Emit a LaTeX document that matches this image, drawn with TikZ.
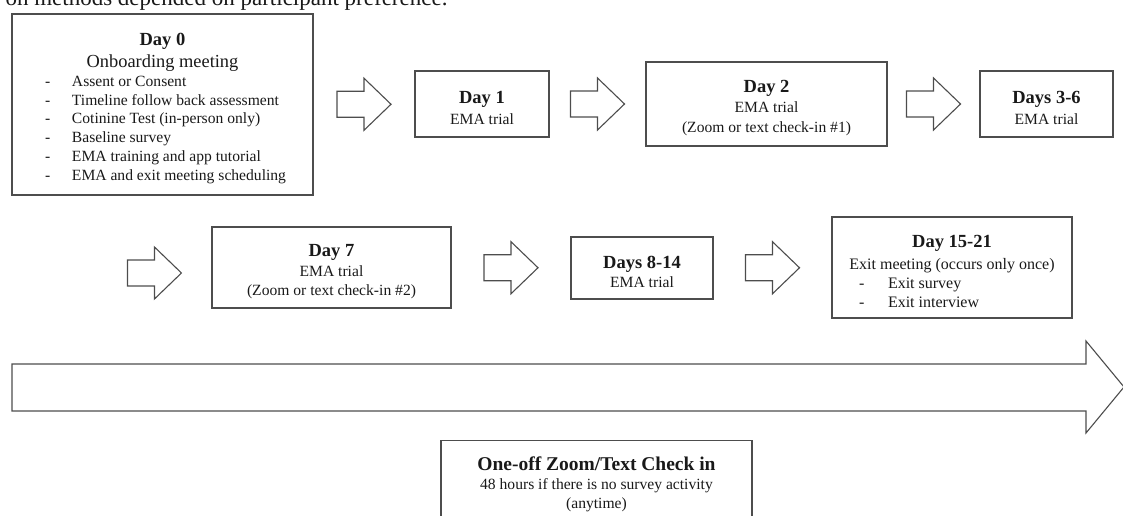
\documentclass[tikz,border=0pt]{standalone}
\usepackage{fontspec}
\setmainfont{Liberation Serif}
\usetikzlibrary{calc}
\definecolor{boxline}{HTML}{4d4d4d}
\newcommand{\daytitle}{\fontsize{18.5}{22}\selectfont\bfseries\rule{0pt}{20pt}}
\newcommand{\subfont}{\fontsize{15.6}{19.5}\selectfont}
\newcommand{\dashitem}[3][27pt]{\makebox[#2][l]{\makebox[#1][l]{-}#3}}

\begin{document}
\begin{tikzpicture}[x=1pt,y=-1pt,
daybox/.style={draw=boxline,line width=1.1pt,align=center,inner sep=0pt,font=\subfont,text=black!90},
hollow/.style={draw=boxline,line width=1.1pt,line join=miter},
hollowarr/.pic={\draw[hollow] (-27,-13) -- (0,-13) -- (0,-26) -- (27,0) -- (0,26) -- (0,13) -- (-27,13) -- cycle;}]
\useasboundingbox (0,0) rectangle (1123,516);
\clip (0,0) rectangle (1123,516);
\node[anchor=base west,font=\fontsize{23}{27}\selectfont,text=black!90] (cut) at (2,6) {on methods depended on participant preference.};
% first row
\node[daybox,minimum width=301pt,minimum height=181pt,font=\fontsize{15.6}{18.7}\selectfont] (day0) at (162.5,104.5)
  {{\daytitle Day 0}\\[3.3pt]{\fontsize{18.4}{22}\selectfont Onboarding meeting}\\[0.3pt]
   \dashitem{235pt}{Assent or Consent}\\
   \dashitem{235pt}{Timeline follow back assessment}\\
   \dashitem{235pt}{Cotinine Test (in-person only)}\\
   \dashitem{235pt}{Baseline survey}\\
   \dashitem{235pt}{EMA training and app tutorial}\\
   \dashitem{235pt}{EMA and exit meeting scheduling}};
\node[daybox,minimum width=134pt,minimum height=66pt] (day1) at (482,104) {{\daytitle Day 1}\\[1.5pt]EMA trial};
\node[daybox,minimum width=241pt,minimum height=84pt] (day2) at (766.5,104) {{\daytitle Day 2}\\[1pt]EMA trial\\(Zoom or text check-in \#1)};
\node[daybox,minimum width=133pt,minimum height=66pt] (day36) at (1046.5,104) {{\daytitle Days 3-6}\\[1.5pt]EMA trial};
% second row
\node[daybox,minimum width=239pt,minimum height=81pt] (day7) at (331.5,267.5) {{\daytitle Day 7}\\[1pt]EMA trial\\[-1pt](Zoom or text check-in \#2)};
\node[daybox,minimum width=142pt,minimum height=62pt] (day814) at (642,268) {{\daytitle Days 8-14}\\[0pt]EMA trial};
\node[daybox,minimum width=240pt,minimum height=101pt,font=\fontsize{16}{19}\selectfont] (day1521) at (952,267.5)
  {{\daytitle Day 15-21}\\[2.5pt]Exit meeting (occurs only once)\\
   \dashitem[29pt]{186pt}{Exit survey}\\
   \dashitem[29pt]{186pt}{Exit interview}};
% check in
\node[daybox,anchor=north,minimum width=311pt,inner ysep=16pt] (checkin) at (596.5,440)
  {{\fontsize{19.5}{23}\selectfont\bfseries One-off Zoom/Text Check in}\\[-0.5pt]48 hours if there is no survey activity\\[-0.5pt](anytime)};
% arrows
\pic at ($(day0.east)!0.5!(day1.west)$) {hollowarr};
\pic at ($(day1.east)!0.5!(day2.west)$) {hollowarr};
\pic at ($(day2.east)!0.5!(day36.west)$) {hollowarr};
\pic at ($(day7.west)+(-57,5.5)$) {hollowarr};
\pic at ($(day7.east)!0.5!(day814.west)$) {hollowarr};
\pic at ($(day814.east)!0.5!(day1521.west)$) {hollowarr};
% timeline
\draw[hollow] (12,364) -- (1086,364) -- (1086,341) -- (1124,387) -- (1086,433) -- (1086,411) -- (12,411) -- cycle;
\end{tikzpicture}
\end{document}
